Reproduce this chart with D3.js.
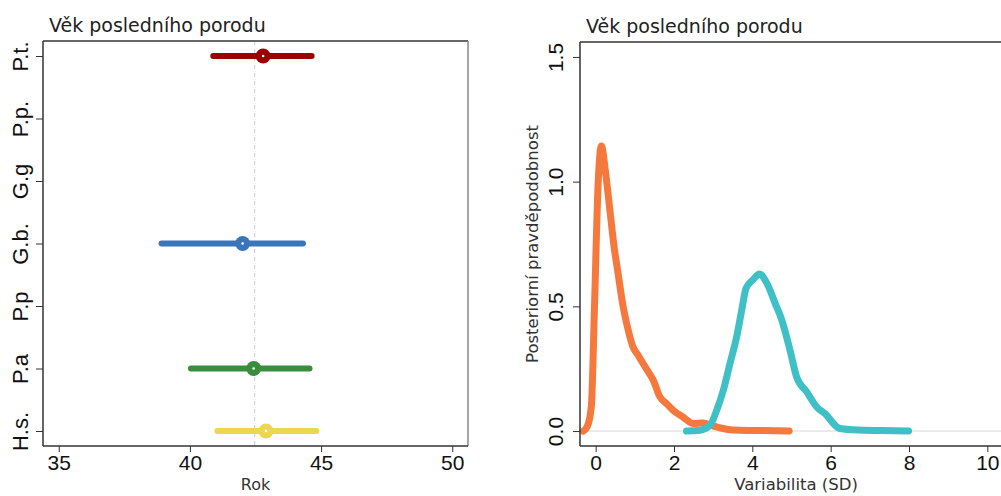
<!DOCTYPE html>
<html><head><meta charset="utf-8">
<script src="https://cdn.jsdelivr.net/npm/d3@7"></script>
<style>
body{margin:0;background:#fff;}
svg{display:block;}
</style></head><body>
<svg id="c" width="1001" height="496"></svg>
<script>
// ---- data ----
const titleText = "Věk posledního porodu";
const species = ["P.t.", "P.p.", "G.g", "G.b.", "P.p", "P.a", "H.s."];
const intervalLow  = [40.89, null, null, 38.92, null, 40.04, 41.05];
const intervalHigh = [44.64, null, null, 44.31, null, 44.56, 44.82];
const pointEst     = [42.79, null, null, 42.01, null, 42.43, 42.90];
const speciesColors = ["#9b0000", null, null, "#3b75b9", null, "#3a8d3c", "#ecd84e"];
const refLine = 42.47;
const leftTicks = [35, 40, 45, 50];
const leftXLabel = "Rok";

const orangeX = [-0.32,-0.22,-0.11,-0.03,0.06,0.145,0.25,0.36,0.47,0.57,0.70,0.83,0.95,1.08,1.21,1.34,1.47,1.64,1.81,1.98,2.23,2.49,2.74,3.0,3.34,3.68,4.2,4.94];
const orangeY = [0.0,0.016,0.10,0.50,0.98,1.143,1.04,0.89,0.74,0.634,0.50,0.405,0.338,0.305,0.271,0.238,0.204,0.137,0.110,0.083,0.056,0.030,0.032,0.020,0.007,0.003,0.002,0.0];
const tealX = [2.32,2.66,2.92,3.09,3.26,3.43,3.60,3.73,3.84,4.02,4.18,4.37,4.58,4.75,4.96,5.13,5.39,5.64,5.90,6.07,6.24,6.7,7.3,7.99];
const tealY = [0.0,0.003,0.023,0.083,0.164,0.271,0.378,0.486,0.573,0.607,0.630,0.593,0.513,0.446,0.325,0.217,0.157,0.097,0.063,0.030,0.010,0.004,0.002,0.0];
const rightXTicks = [0, 2, 4, 6, 8, 10];
const rightYTicks = [0.0, 0.5, 1.0, 1.5];
const rightXLabel = "Variabilita (SD)";
const rightYLabel = "Posteriorní pravděpodobnost";
const curveColors = ["#f5783d", "#3fbfc6"];

const svg = d3.select("#c");
const tickFont = "'Liberation Sans', Arial, sans-serif";
const textFont = "'DejaVu Sans', Verdana, sans-serif";
const axisColor = "#333";

// ---- left panel ----
const L = {left: 43, right: 468, top: 41, bottom: 446};
const xL = d3.scaleLinear().domain([34.4, 50.6]).range([L.left, L.right]);
const yL = d3.scaleLinear().domain([0.76, 7.24]).range([L.top, L.bottom]);
const gL = svg.append("g");

gL.append("line").attr("x1", xL(refLine)).attr("x2", xL(refLine))
  .attr("y1", L.top).attr("y2", L.bottom)
  .attr("stroke", "#c8c8c8").attr("stroke-width", 1).attr("stroke-dasharray", "4,4");

species.forEach((s, i) => {
  if (pointEst[i] == null) return;
  const y = yL(i + 1);
  gL.append("line").attr("x1", xL(intervalLow[i])).attr("x2", xL(intervalHigh[i]))
    .attr("y1", y).attr("y2", y).attr("stroke", speciesColors[i])
    .attr("stroke-width", 6).attr("stroke-linecap", "round");
  gL.append("circle").attr("cx", xL(pointEst[i])).attr("cy", y).attr("r", 7.5)
    .attr("fill", speciesColors[i]);
  gL.append("circle").attr("cx", xL(pointEst[i])).attr("cy", y).attr("r", 1.3)
    .attr("fill", "#fff");
});

// box
gL.append("path").attr("d", `M${L.left},${L.top}H${L.right}`).attr("stroke", axisColor).attr("stroke-width", 1.5);
gL.append("path").attr("d", `M${L.right},${L.top}V${L.bottom}`).attr("stroke", "#888").attr("stroke-width", 1.5);

const axBL = gL.append("g").attr("transform", `translate(0,${L.bottom})`)
  .call(d3.axisBottom(xL).tickValues(leftTicks).tickSize(6).tickSizeOuter(0).tickPadding(3));
const axLL = gL.append("g").attr("transform", `translate(${L.left},0)`)
  .call(d3.axisLeft(yL).tickValues(d3.range(1, 8)).tickFormat(d => species[d - 1]).tickSize(7).tickSizeOuter(0));

[axBL, axLL].forEach(a => {
  a.select(".domain").attr("stroke", axisColor).attr("stroke-width", 1.5);
  a.selectAll(".tick line").attr("stroke", axisColor);
  a.selectAll("text").attr("font-family", tickFont).attr("font-size", 21).attr("fill", "#111");
});
axLL.selectAll("text").attr("font-size", 22);
axBL.select(".domain").attr("d", `M${L.left},0H${L.right}`);
axLL.select(".domain").attr("d", `M0,${L.top}V${L.bottom}`);
axBL.selectAll("text").attr("dy", null).attr("y", 24);
axLL.selectAll(".tick text").attr("transform", "rotate(-90)").attr("x", 0).attr("y", -15)
  .attr("dy", null).attr("text-anchor", "middle");

gL.append("text").attr("x", 49).attr("y", 32).text(titleText)
  .attr("font-family", textFont).attr("font-size", 19).attr("fill", "#222");
gL.append("text").attr("x", (xL(40) + xL(45)) / 2 ).attr("y", 490).text(leftXLabel)
  .attr("text-anchor", "middle").attr("font-family", textFont).attr("font-size", 16).attr("fill", "#333");

// ---- right panel ----
const R = {left: 580, right: 1003, top: 42, bottom: 446};
const xR = d3.scaleLinear().domain([-0.4, 10.4]).range([R.left, R.right]);
const yR = d3.scaleLinear().domain([-0.06, 1.56]).range([R.bottom, R.top]);
const gR = svg.append("g");

gR.append("line").attr("x1", R.left).attr("x2", R.right).attr("y1", yR(0)).attr("y2", yR(0))
  .attr("stroke", "#d8d8d8").attr("stroke-width", 1);

const line = d3.line().x(d => xR(d[0])).y(d => yR(d[1])).curve(d3.curveMonotoneX);
const curves = [d3.zip(orangeX, orangeY), d3.zip(tealX, tealY)];
curves.forEach((pts, i) => {
  gR.append("path").attr("d", line(pts)).attr("fill", "none")
    .attr("stroke", curveColors[i]).attr("stroke-width", 7)
    .attr("stroke-linecap", "round").attr("stroke-linejoin", "round");
});

gR.append("path").attr("d", `M${R.left},${R.top}H${R.right}`).attr("stroke", axisColor).attr("stroke-width", 1.5);

const axBR = gR.append("g").attr("transform", `translate(0,${R.bottom})`)
  .call(d3.axisBottom(xR).tickValues(rightXTicks).tickSize(6).tickSizeOuter(0));
const axLR = gR.append("g").attr("transform", `translate(${R.left},0)`)
  .call(d3.axisLeft(yR).tickValues(rightYTicks).tickFormat(d3.format(".1f")).tickSize(7).tickSizeOuter(0));
[axBR, axLR].forEach(a => {
  a.select(".domain").attr("stroke", axisColor).attr("stroke-width", 1.5);
  a.selectAll(".tick line").attr("stroke", axisColor);
  a.selectAll("text").attr("font-family", tickFont).attr("font-size", 21).attr("fill", "#111");
});
axBR.select(".domain").attr("d", `M${R.left},0H${R.right}`);
axLR.select(".domain").attr("d", `M0,${R.top}V${R.bottom}`);
axBR.selectAll("text").attr("dy", null).attr("y", 24);
axLR.selectAll(".tick text").attr("transform", "rotate(-90)").attr("x", 0).attr("y", -17)
  .attr("dy", null).attr("text-anchor", "middle");

gR.append("text").attr("x", 586).attr("y", 33).text(titleText)
  .attr("font-family", textFont).attr("font-size", 19).attr("fill", "#222");
gR.append("text").attr("x", 796).attr("y", 490).text(rightXLabel)
  .attr("text-anchor", "middle").attr("font-family", textFont).attr("font-size", 16.5).attr("fill", "#333");
gR.append("text").attr("transform", `translate(538,${(R.top + R.bottom) / 2}) rotate(-90)`)
  .text(rightYLabel).attr("text-anchor", "middle")
  .attr("font-family", textFont).attr("font-size", 16.5).attr("fill", "#333");
</script>
</body></html>
